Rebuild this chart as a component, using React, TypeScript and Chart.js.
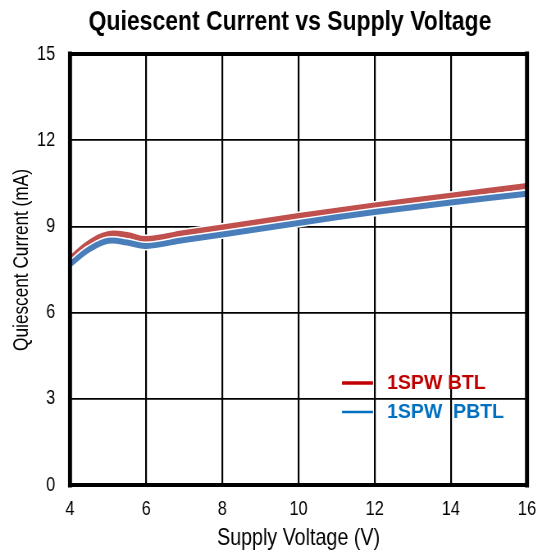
import React, { useEffect, useRef } from 'react';
import { Chart, registerables } from 'chart.js';

Chart.register(...registerables);

const voltage = [4, 4.5, 5, 5.5, 6, 7, 8, 10, 12, 14, 16];
const btl = [7.87, 8.42, 8.73, 8.7, 8.56, 8.77, 8.96, 9.36, 9.73, 10.07, 10.41];
const pbtl = [7.68, 8.2, 8.5, 8.44, 8.32, 8.53, 8.72, 9.12, 9.5, 9.83, 10.14];
const xTicks = [4, 6, 8, 10, 12, 14, 16];
const yTicks = [0, 3, 6, 9, 12, 15];

const titleText = 'Quiescent Current vs Supply Voltage';
const xTitle = 'Supply Voltage (V)';
const yTitle = 'Quiescent Current (mA)';
const seriesNames = ['1SPW BTL', '1SPW  PBTL'];

// The reference uses a narrow (condensed) sans face; we render on a wider
// canvas with a regular face and compress it horizontally.
const SX = 0.82;
const OUT_W = 539;
const OUT_H = 555;
const CW = Math.round(OUT_W / SX);

const FONT = "'Liberation Sans', Arial, sans-serif";
const RED_LINE = '#C0504D';
const BLUE_LINE = '#4A7EBB';
const RED_TEXT = '#C00000';
const BLUE_TEXT = '#0070C0';

const framePlugin = {
  id: 'frame',
  afterDatasetsDraw(chart: any) {
    const { ctx, chartArea: a } = chart;
    ctx.save();
    ctx.strokeStyle = '#000';
    ctx.lineCap = 'square';
    ctx.lineWidth = 4;
    ctx.beginPath();
    ctx.moveTo(a.left, a.top);
    ctx.lineTo(a.right, a.top);
    ctx.moveTo(a.left, a.bottom);
    ctx.lineTo(a.right, a.bottom);
    ctx.stroke();
    ctx.lineWidth = 4 / SX;
    ctx.beginPath();
    ctx.moveTo(a.left, a.top);
    ctx.lineTo(a.left, a.bottom);
    ctx.moveTo(a.right, a.top);
    ctx.lineTo(a.right, a.bottom);
    ctx.stroke();
    ctx.restore();
  },
};

const decorPlugin = {
  id: 'decor',
  afterDraw(chart: any) {
    const { ctx, chartArea: a } = chart;
    ctx.save();
    // chart title
    ctx.fillStyle = '#000';
    ctx.font = `bold 28px ${FONT}`;
    ctx.textAlign = 'center';
    ctx.textBaseline = 'alphabetic';
    ctx.fillText(titleText, 290 / SX, 30);

    // y axis title (narrow face, rotated)
    ctx.save();
    ctx.translate(22 / SX, 260);
    ctx.rotate(-Math.PI / 2);
    ctx.scale(SX, 1 / SX);
    ctx.font = `21px ${FONT}`;
    ctx.textAlign = 'center';
    ctx.textBaseline = 'middle';
    ctx.fillText(yTitle, 0, 0);
    ctx.restore();

    // legend (regular-width bold face)
    const lx = 342 / SX;
    const items = [
      { text: seriesNames[0], color: RED_TEXT, y: a.top + 329, w: 3.5 },
      { text: seriesNames[1], color: BLUE_TEXT, y: a.top + 358, w: 2.5 },
    ];
    for (const it of items) {
      ctx.strokeStyle = it.color;
      ctx.lineWidth = it.w;
      ctx.beginPath();
      ctx.moveTo(lx, it.y);
      ctx.lineTo(lx + 31 / SX, it.y);
      ctx.stroke();
      ctx.save();
      ctx.translate(lx + 45 / SX, it.y + 1);
      ctx.scale(1 / SX, 1);
      ctx.font = `bold 19.5px ${FONT}`;
      ctx.textAlign = 'left';
      ctx.textBaseline = 'middle';
      ctx.fillStyle = it.color;
      ctx.fillText(it.text, 0, 0);
      ctx.restore();
    }
    ctx.restore();
  },
};

export default function App() {
  const ref = useRef<HTMLCanvasElement | null>(null);

  useEffect(() => {
    document.body.style.margin = '0';
    const canvas = ref.current;
    if (!canvas) return;
    const mk = (vals: number[]) => voltage.map((v, i) => ({ x: v, y: vals[i] }));
    const common = { pointRadius: 0, tension: 0.4 };
    const chart = new Chart(canvas, {
      type: 'line',
      data: {
        datasets: [
          { label: 'halo-btl', data: mk(btl), borderColor: '#fff', borderWidth: 9, order: 4, ...common },
          { label: seriesNames[0], data: mk(btl), borderColor: RED_LINE, borderWidth: 6, order: 3, ...common },
          { label: 'halo-pbtl', data: mk(pbtl), borderColor: '#fff', borderWidth: 9, order: 2, ...common },
          { label: seriesNames[1], data: mk(pbtl), borderColor: BLUE_LINE, borderWidth: 6, order: 1, ...common },
        ],
      },
      options: {
        responsive: false,
        animation: false,
        devicePixelRatio: 1,
        layout: { padding: { top: 54, right: CW - 527 / SX, left: 0, bottom: 0 } },
        plugins: { legend: { display: false }, tooltip: { enabled: false }, title: { display: false } },
        scales: {
          x: {
            type: 'linear',
            min: 4,
            max: 16,
            afterFit: (s: any) => { s.height = 70; s.paddingLeft = 0; s.paddingRight = 0; },
            afterBuildTicks: (s: any) => { s.ticks = xTicks.map((v) => ({ value: v })); },
            ticks: { color: '#000', font: { family: FONT, size: 20 }, padding: 12 },
            grid: { color: '#000', lineWidth: 1.8 / SX, drawTicks: false },
            border: { display: false },
            title: { display: true, text: xTitle, color: '#000', font: { family: FONT, size: 24 }, padding: { top: 2, bottom: 2 } },
          },
          y: {
            type: 'linear',
            min: 0,
            max: 15,
            afterFit: (s: any) => { s.width = 70 / SX; s.paddingTop = 0; s.paddingBottom = 0; },
            afterBuildTicks: (s: any) => { s.ticks = yTicks.map((v) => ({ value: v })); },
            ticks: { color: '#000', font: { family: FONT, size: 20 }, padding: 18 },
            grid: { color: '#000', lineWidth: 1.8, drawTicks: false },
            border: { display: false },
            title: { display: false, text: yTitle },
          },
        },
      },
      plugins: [framePlugin, decorPlugin],
    } as any);
    return () => chart.destroy();
  }, []);

  return (
    <div style={{ position: 'absolute', left: 0, top: 0, width: OUT_W, height: OUT_H, overflow: 'hidden', background: '#fff' }}>
      <canvas
        ref={ref}
        width={CW}
        height={OUT_H}
        style={{ width: CW, height: OUT_H, transform: `scaleX(${SX})`, transformOrigin: '0 0' }}
      />
    </div>
  );
}
